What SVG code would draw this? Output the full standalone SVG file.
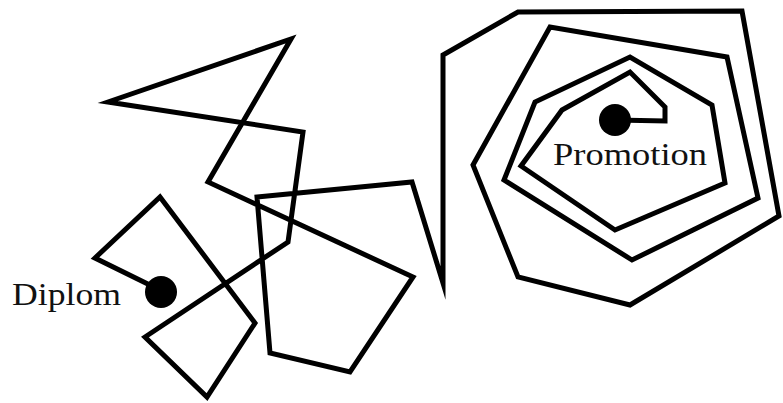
<svg xmlns="http://www.w3.org/2000/svg" width="783" height="403" viewBox="0 0 783 403">
<style>
.path{fill:none;stroke:#000;stroke-width:5;stroke-linejoin:miter;stroke-miterlimit:10}
.dot{fill:#000}
.lbl{font-family:"Liberation Serif","Times New Roman",serif;font-size:32px;fill:#111}
</style>
<rect width="783" height="403" fill="#fff"/>
<g id="connectors">
<polyline class="path" points="160,290 95,258 160,197 255,323 207,397 145,337 288,242 303,132 108,102 291,39 208,182 413,277 350,372 270,353 257,197 412,182 443,283 443,55 518,12 742,11 779,216 630,305 518,277 473,165 550,27 727,57 758,198 632,260 504,180 535,102 630,57 712,105 725,183 615,230 521,166 562,110 630,72 665,107 665,121 615,120"/>
</g>
<g id="diplom">
<circle class="dot" cx="161" cy="292" r="16"/>
<text class="lbl" x="12" y="305" textLength="109" lengthAdjust="spacingAndGlyphs">Diplom</text>
</g>
<g id="promotion">
<circle class="dot" cx="615" cy="120" r="16"/>
<text class="lbl" x="553" y="165" textLength="154" lengthAdjust="spacingAndGlyphs">Promotion</text>
</g>
</svg>
